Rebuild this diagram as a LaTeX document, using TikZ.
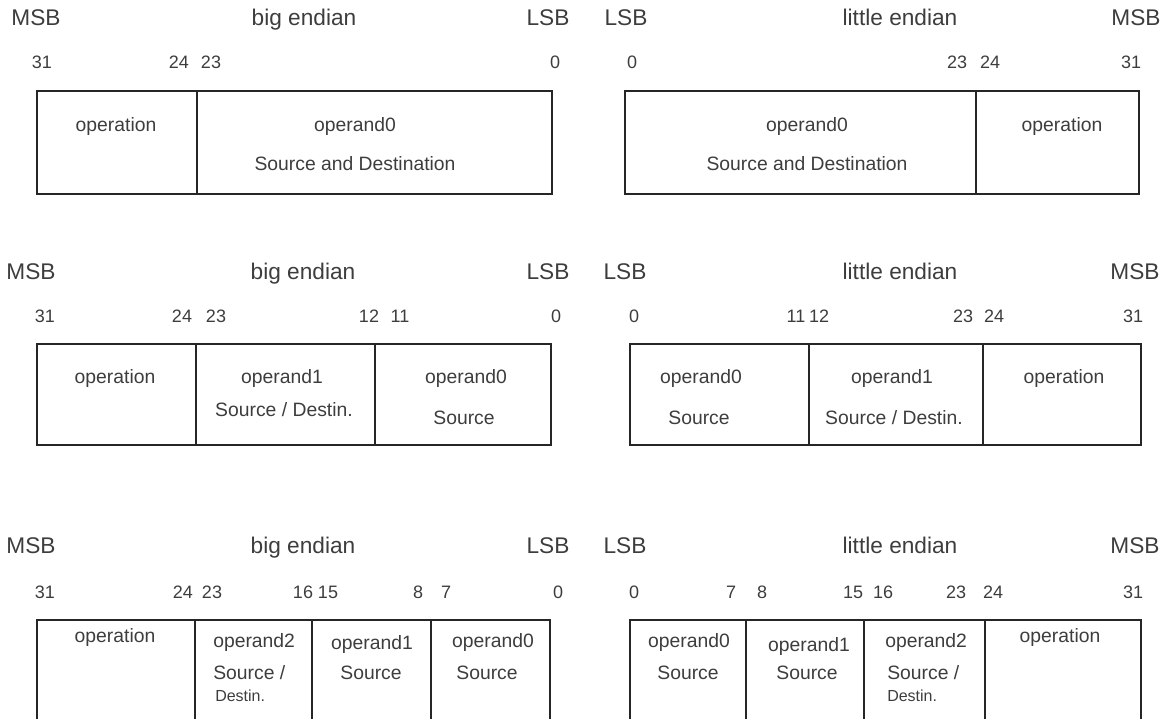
\documentclass[tikz,border=0pt]{standalone}
\usepackage{fontspec}
\setmainfont{Liberation Sans}
\begin{document}
\begin{tikzpicture}[x=0.75pt,y=-0.75pt,
  lab/.style={inner sep=0pt, text height=0.72em, text depth=0pt, text=black!76},
  hdr/.style={lab, font=\fontsize{17}{20}\selectfont},
  num/.style={lab, font=\fontsize{13.5}{16}\selectfont},
  fld/.style={lab, font=\fontsize{14.5}{17}\selectfont},
  sml/.style={lab, font=\fontsize{12}{14}\selectfont},
  frame/.style={draw=black!85, line width=2pt},
  sep/.style={draw=black!85, line width=1.7pt}]
\useasboundingbox (0,0) rectangle (1163,718);

% ---------- Row 1 left ----------
\node[hdr] (h1a) at (36,21) {MSB};
\node[hdr] (h1b) at (304,21) {big endian};
\node[hdr] (h1c) at (548,21) {LSB};
\node[num] (n1a) at (42,64) {31};
\node[num] (n1b) at (179,64) {24};
\node[num] (n1c) at (211,64) {23};
\node[num] (n1d) at (555,64) {0};
\draw[frame] (37,91) rectangle (552,194);
\draw[sep] (197,91) -- (197,194);
\node[fld] (f1a) at (116,127) {operation};
\node[fld] (f1b) at (355,127) {operand0};
\node[fld] (f1c) at (355,166) {Source and Destination};

% ---------- Row 1 right ----------
\node[hdr] (h2a) at (626,21) {LSB};
\node[hdr] (h2b) at (900,21) {little endian};
\node[hdr] (h2c) at (1136,21) {MSB};
\node[num] (n2a) at (632,64) {0};
\node[num] (n2b) at (957,64) {23};
\node[num] (n2c) at (990,64) {24};
\node[num] (n2d) at (1131,64) {31};
\draw[frame] (625,91) rectangle (1139,194);
\draw[sep] (976,91) -- (976,194);
\node[fld] (f2a) at (807,127) {operand0};
\node[fld] (f2b) at (807,166) {Source and Destination};
\node[fld] (f2c) at (1062,127) {operation};

% ---------- Row 2 left ----------
\node[hdr] (h3a) at (31,275) {MSB};
\node[hdr] (h3b) at (303,275) {big endian};
\node[hdr] (h3c) at (548,275) {LSB};
\node[num] (n3a) at (45,318) {31};
\node[num] (n3b) at (182,318) {24};
\node[num] (n3c) at (216,318) {23};
\node[num] (n3d) at (369,318) {12};
\node[num] (n3e) at (400,318) {11};
\node[num] (n3f) at (556,318) {0};
\draw[frame] (37,344) rectangle (551,445);
\draw[sep] (196,344) -- (196,445);
\draw[sep] (375,344) -- (375,445);
\node[fld] (f3a) at (115,379) {operation};
\node[fld] (f3b) at (282,379) {operand1};
\node[fld] (f3c) at (284,412) {Source / Destin.};
\node[fld] (f3d) at (466,379) {operand0};
\node[fld] (f3e) at (464,420) {Source};

% ---------- Row 2 right ----------
\node[hdr] (h4a) at (625,275) {LSB};
\node[hdr] (h4b) at (900,275) {little endian};
\node[hdr] (h4c) at (1135,275) {MSB};
\node[num] (n4a) at (634,318) {0};
\node[num] (n4b) at (796,318) {11};
\node[num] (n4c) at (819,318) {12};
\node[num] (n4d) at (963,318) {23};
\node[num] (n4e) at (994,318) {24};
\node[num] (n4f) at (1133,318) {31};
\draw[frame] (630,344) rectangle (1141,445);
\draw[sep] (809,344) -- (809,445);
\draw[sep] (983,344) -- (983,445);
\node[fld] (f4a) at (701,379) {operand0};
\node[fld] (f4b) at (699,420) {Source};
\node[fld] (f4c) at (892,379) {operand1};
\node[fld] (f4d) at (894,420) {Source / Destin.};
\node[fld] (f4e) at (1064,379) {operation};

% ---------- Row 3 left ----------
\node[hdr] (h5a) at (31,549) {MSB};
\node[hdr] (h5b) at (303,549) {big endian};
\node[hdr] (h5c) at (548,549) {LSB};
\node[num] (n5a) at (45,594) {31};
\node[num] (n5b) at (183,594) {24};
\node[num] (n5c) at (212,594) {23};
\node[num] (n5d) at (303,594) {16};
\node[num] (n5e) at (328,594) {15};
\node[num] (n5f) at (418,594) {8};
\node[num] (n5g) at (446,594) {7};
\node[num] (n5h) at (558,594) {0};
\draw[frame] (37,720) -- (37,620) -- (550,620) -- (550,720);
\draw[sep] (195,620) -- (195,720);
\draw[sep] (312,620) -- (312,720);
\draw[sep] (431,620) -- (431,720);
\node[fld] (f5a) at (115,638) {operation};
\node[fld,anchor=west] (f5b) at (213,643) {operand2};
\node[fld,anchor=west] (f5c) at (213,675) {Source /};
\node[sml,anchor=west] (f5d) at (215,697) {Destin.};
\node[fld] (f5e) at (372,645) {operand1};
\node[fld] (f5f) at (371,675) {Source};
\node[fld] (f5g) at (493,643) {operand0};
\node[fld] (f5h) at (487,675) {Source};

% ---------- Row 3 right ----------
\node[hdr] (h6a) at (625,549) {LSB};
\node[hdr] (h6b) at (900,549) {little endian};
\node[hdr] (h6c) at (1135,549) {MSB};
\node[num] (n6a) at (634,594) {0};
\node[num] (n6b) at (731,594) {7};
\node[num] (n6c) at (762,594) {8};
\node[num] (n6d) at (853,594) {15};
\node[num] (n6e) at (883,594) {16};
\node[num] (n6f) at (956,594) {23};
\node[num] (n6g) at (993,594) {24};
\node[num] (n6h) at (1133,594) {31};
\draw[frame] (630,720) -- (630,620) -- (1141,620) -- (1141,720);
\draw[sep] (746,620) -- (746,720);
\draw[sep] (864,620) -- (864,720);
\draw[sep] (985,620) -- (985,720);
\node[fld] (f6a) at (689,643) {operand0};
\node[fld] (f6b) at (688,675) {Source};
\node[fld] (f6c) at (809,647) {operand1};
\node[fld] (f6d) at (807,675) {Source};
\node[fld,anchor=west] (f6e) at (885,643) {operand2};
\node[fld,anchor=west] (f6f) at (887,675) {Source /};
\node[sml,anchor=west] (f6g) at (887,697) {Destin.};
\node[fld] (f6h) at (1060,638) {operation};
\end{tikzpicture}
\end{document}
